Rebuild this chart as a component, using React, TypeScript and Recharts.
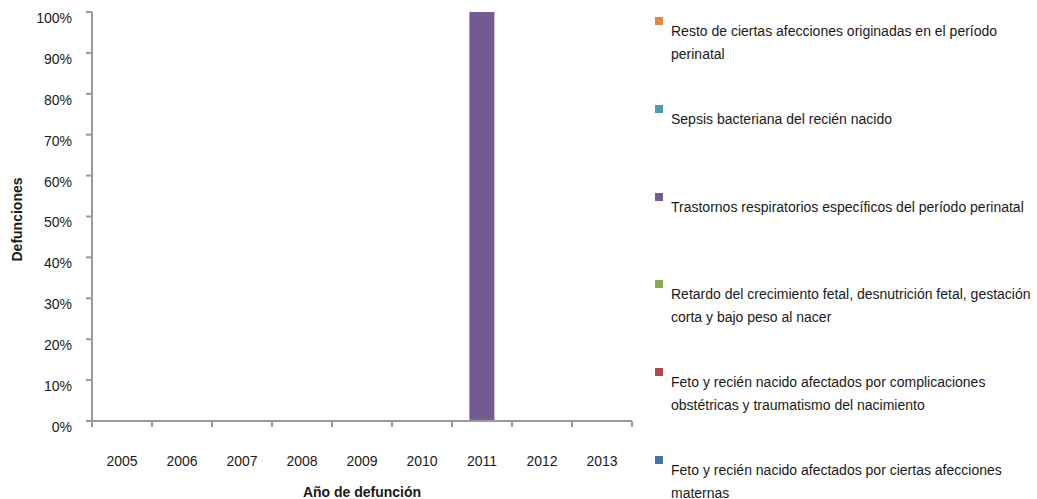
import React from 'react';
import { BarChart, Bar, XAxis, YAxis, Label } from 'recharts';

const years = ['2005', '2006', '2007', '2008', '2009', '2010', '2011', '2012', '2013'];
const maternas = [0, 0, 0, 0, 0, 0, 0, 0, 0];
const complicaciones = [0, 0, 0, 0, 0, 0, 0, 0, 0];
const retardo = [0, 0, 0, 0, 0, 0, 0, 0, 0];
const trastornos = [0, 0, 0, 0, 0, 0, 1, 0, 0];
const sepsis = [0, 0, 0, 0, 0, 0, 0, 0, 0];
const resto = [0, 0, 0, 0, 0, 0, 0, 0, 0];
const yTicks = [0, 0.1, 0.2, 0.3, 0.4, 0.5, 0.6, 0.7, 0.8, 0.9, 1];

const series = [
  { key: 'maternas', name: 'Feto y recién nacido afectados por ciertas afecciones maternas', color: '#4672AA', values: maternas },
  { key: 'complicaciones', name: 'Feto y recién nacido afectados por complicaciones obstétricas y traumatismo del nacimiento', color: '#B04A48', values: complicaciones },
  { key: 'retardo', name: 'Retardo del crecimiento fetal, desnutrición fetal, gestación corta y bajo peso al nacer', color: '#8EAA4E', values: retardo },
  { key: 'trastornos', name: 'Trastornos respiratorios específicos del período perinatal', color: '#735A93', values: trastornos },
  { key: 'sepsis', name: 'Sepsis bacteriana del recién nacido', color: '#4B9BB2', values: sepsis },
  { key: 'resto', name: 'Resto de ciertas afecciones originadas en el período perinatal', color: '#E0893F', values: resto },
];

const data = years.map((year, i) => {
  const row: Record<string, any> = { year };
  series.forEach((s) => { row[s.key] = s.values[i]; });
  return row;
});

const FONT = '"Liberation Sans", Arial, sans-serif';
const AXIS = '#9a9a9a';
const TEXT = '#1a1a1a';

const XTick = (props: any) => {
  const { x, y, payload, index, visibleTicksCount, width } = props;
  const half = payload && typeof payload.offset === 'number' && payload.offset > 0 ? payload.offset : width / visibleTicksCount / 2;
  return (
    <g>
      <line x1={x - half} x2={x - half} y1={y} y2={y + 6} stroke={AXIS} strokeWidth={2} />
      {index === visibleTicksCount - 1 && (
        <line x1={x + half} x2={x + half} y1={y} y2={y + 6} stroke={AXIS} strokeWidth={2} />
      )}
      <text x={x} y={y + 45} textAnchor="middle" fontFamily={FONT} fontSize={14} fill={TEXT}>
        {payload.value}
      </text>
    </g>
  );
};

const YTick = (props: any) => {
  const { x, y, payload } = props;
  return (
    <text x={x} y={y + 6} dy="0.35em" textAnchor="end" fontFamily={FONT} fontSize={14} fill={TEXT}>
      {Math.round(payload.value * 100)}%
    </text>
  );
};

const legendItems = [...series].reverse();

export default function App() {
  return (
    <div style={{ position: 'absolute', left: 0, top: 0, width: 1037, height: 499, background: '#fff' }}>
      <BarChart
        width={1037}
        height={499}
        data={data}
        margin={{ top: 12, right: 405, bottom: 0, left: 0 }}
        barCategoryGap="29%"
      >
        <XAxis
          dataKey="year"
          height={78}
          tickLine={false}
          tickSize={0}
          tickMargin={0}
          axisLine={{ stroke: AXIS, strokeWidth: 2 }}
          tick={<XTick />}
          interval={0}
        >
          <Label
            content={(p: any) => {
              const vb = p.viewBox || { x: 92, y: 421, width: 540, height: 78 };
              const cx = vb.x + vb.width / 2;
              const cy = vb.y + 76;
              return (
                <text x={cx} y={cy} textAnchor="middle" fontFamily={FONT} fontSize={14} fontWeight="bold" fill={TEXT}>
                  Año de defunción
                </text>
              );
            }}
          />
        </XAxis>
        <YAxis
          width={92}
          domain={[0, 1]}
          ticks={yTicks}
          interval={0}
          tickSize={6}
          tickMargin={14}
          tickLine={{ stroke: AXIS, strokeWidth: 2 }}
          axisLine={{ stroke: AXIS, strokeWidth: 2 }}
          tick={<YTick />}
        >
          <Label
            content={(p: any) => {
              const vb = p.viewBox || { x: 0, y: 12, width: 92, height: 409 };
              const cx = vb.x + 22;
              const cy = vb.y + vb.height / 2 + 3;
              return (
                <text
                  x={cx}
                  y={cy}
                  transform={`rotate(-90 ${cx} ${cy})`}
                  textAnchor="middle"
                  fontFamily={FONT}
                  fontSize={14}
                  fontWeight="bold"
                  fill={TEXT}
                >
                  Defunciones
                </text>
              );
            }}
          />
        </YAxis>
        {series.map((s) => (
          <Bar key={s.key} dataKey={s.key} name={s.name} stackId="a" fill={s.color} isAnimationActive={false} />
        ))}
      </BarChart>
      <div style={{ position: 'absolute', left: 655, top: 0, width: 382, fontFamily: FONT, fontSize: 14, color: TEXT }}>
        {legendItems.map((s, i) => (
          <div key={s.key} style={{ position: 'absolute', left: 0, top: i * 87.8, width: 382, height: 88 }}>
            <div style={{ position: 'absolute', left: 0, top: 17, width: 8, height: 8, background: s.color }} />
            <div style={{ position: 'absolute', left: 16, top: 20, width: 366, lineHeight: '23px' }}>{s.name}</div>
          </div>
        ))}
      </div>
    </div>
  );
}
